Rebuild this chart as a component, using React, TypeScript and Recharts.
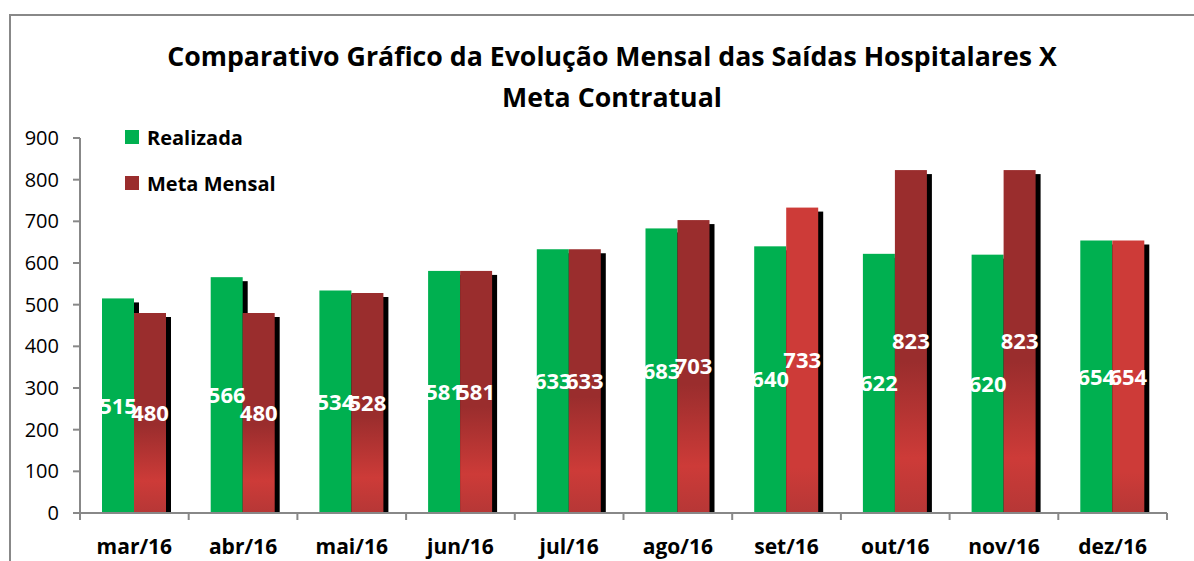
import React from 'react';
import { BarChart, Bar, XAxis, YAxis, LabelList, Cell } from 'recharts';

const months = ['mar/16', 'abr/16', 'mai/16', 'jun/16', 'jul/16', 'ago/16', 'set/16', 'out/16', 'nov/16', 'dez/16'];
const realizada = [515, 566, 534, 581, 633, 683, 640, 622, 620, 654];
const metaMensal = [480, 480, 528, 581, 633, 703, 733, 823, 823, 654];
const yTicks = [0, 100, 200, 300, 400, 500, 600, 700, 800, 900];

const data = months.map((m, i) => ({ month: m, realizada: realizada[i], meta: metaMensal[i] }));

// meta bars drawn in the lighter red fill
const brightMeta = new Set(['set/16', 'dez/16']);

const FONT = '"Open Sans", Lato, sans-serif';
const GREEN = '#00B050';
const DARK_RED = '#9A2D2D';
const AXIS = '#888888';
const BAND = (1194 - 80 - 27) / months.length;

const ShadowBar = (props: any) => {
  const { x, y, width, height, fill } = props;
  if (height <= 0) return null;
  return (
    <g>
      <rect x={x + 5} y={y + 4} width={width} height={Math.max(0, height - 4)} fill="#000" />
      <rect x={x} y={y} width={width} height={height} fill={fill} />
    </g>
  );
};

const MonthTick = (props: any) => {
  const { x, y, payload, index } = props;
  const left = x - BAND / 2;
  return (
    <g>
      <line x1={left} x2={left} y1={y - 8} y2={y - 1} stroke={AXIS} strokeWidth={2} />
      {index === months.length - 1 && (
        <line x1={left + BAND} x2={left + BAND} y1={y - 8} y2={y - 1} stroke={AXIS} strokeWidth={2} />
      )}
      <text x={x} y={y + 33} textAnchor="middle" fontFamily={FONT} fontWeight="bold" fontSize={21} fill="#000">
        {payload.value}
      </text>
    </g>
  );
};

const legendItems = [
  { label: 'Realizada', color: GREEN },
  { label: 'Meta Mensal', color: DARK_RED },
];

export default function App() {
  return (
    <div style={{ position: 'absolute', left: 0, top: 0, width: 1194, height: 561, overflow: 'hidden', background: '#fff' }}>
      <div
        style={{
          position: 'absolute',
          left: 9,
          top: 14,
          width: 1300,
          height: 700,
          borderLeft: `2px solid ${AXIS}`,
          borderTop: `2px solid ${AXIS}`,
        }}
      />
      <div
        style={{
          position: 'absolute',
          left: 0,
          width: 1224,
          top: 35,
          textAlign: 'center',
          fontFamily: FONT,
          fontWeight: 'bold',
          fontSize: 26.7,
          lineHeight: '41px',
          color: '#000',
        }}
      >
        Comparativo Gráfico da Evolução Mensal das Saídas Hospitalares X
        <br />
        Meta Contratual
      </div>
      <BarChart
        width={1194}
        height={561}
        data={data}
        margin={{ top: 138, right: 27, bottom: 8, left: 0 }}
        barGap={0}
        barSize={32}
        style={{ position: 'absolute', left: 0, top: 0 }}
      >
        <defs>
          <linearGradient id="metaDark" x1="0" y1="0" x2="0" y2="1">
            <stop offset="0" stopColor="#9A2D2D" />
            <stop offset="0.56" stopColor="#9A2D2D" />
            <stop offset="0.84" stopColor="#CD3B38" />
            <stop offset="1" stopColor="#B63736" />
          </linearGradient>
          <linearGradient id="metaBright" x1="0" y1="0" x2="0" y2="1">
            <stop offset="0" stopColor="#CD3B38" />
            <stop offset="0.85" stopColor="#CD3B38" />
            <stop offset="1" stopColor="#B63736" />
          </linearGradient>
        </defs>
        <XAxis
          dataKey="month"
          axisLine={{ stroke: AXIS, strokeWidth: 2 }}
          tickLine={false}
          tick={<MonthTick />}
          height={40}
          interval={0}
        />
        <YAxis
          domain={[0, 900]}
          ticks={yTicks}
          width={80}
          axisLine={{ stroke: AXIS, strokeWidth: 2 }}
          tickLine={{ stroke: AXIS, strokeWidth: 2 }}
          tickSize={7}
          tickMargin={14}
          tick={{ fill: '#000', fontSize: 20, fontFamily: FONT }}
          interval={0}
        />
        <Bar dataKey="realizada" name="Realizada" fill={GREEN} shape={<ShadowBar />} isAnimationActive={false}>
          <LabelList dataKey="realizada" position="center" fill="#fff" fontWeight="bold" fontSize={22} fontFamily={FONT} />
        </Bar>
        <Bar dataKey="meta" name="Meta Mensal" fill={DARK_RED} shape={<ShadowBar />} isAnimationActive={false}>
          {data.map((d) => (
            <Cell key={d.month} fill={brightMeta.has(d.month) ? 'url(#metaBright)' : 'url(#metaDark)'} />
          ))}
          <LabelList dataKey="meta" position="center" fill="#fff" fontWeight="bold" fontSize={22} fontFamily={FONT} />
        </Bar>
      </BarChart>
      <div
        style={{
          position: 'absolute',
          left: 125,
          top: 114,
          fontFamily: FONT,
          fontWeight: 'bold',
          fontSize: 20,
          color: '#000',
        }}
      >
        {legendItems.map((item) => (
          <div key={item.label} style={{ display: 'flex', alignItems: 'center', height: 46 }}>
            <span style={{ width: 14, height: 14, background: item.color, display: 'inline-block', marginRight: 8 }} />
            {item.label}
          </div>
        ))}
      </div>
    </div>
  );
}
